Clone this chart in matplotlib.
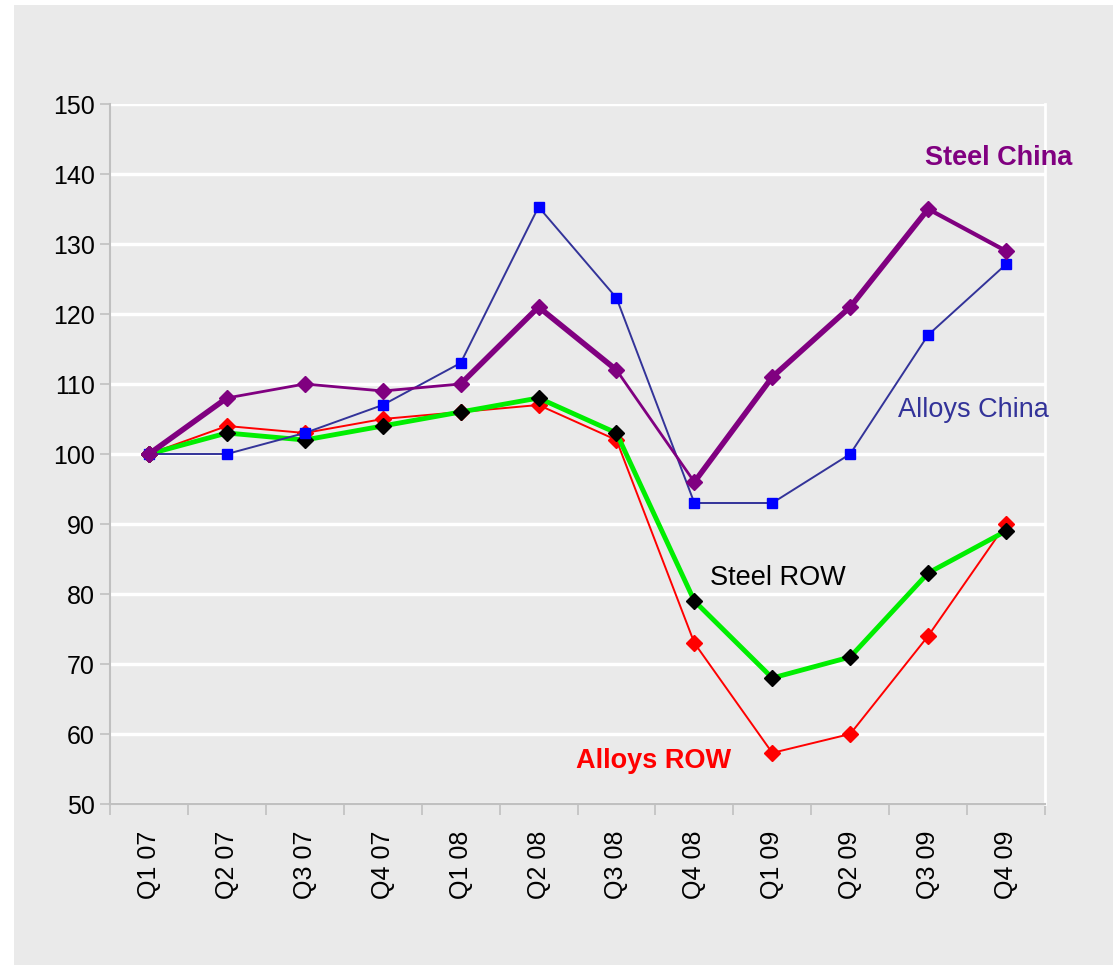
import matplotlib
matplotlib.use("Agg")
import matplotlib.pyplot as plt
from matplotlib.patches import Rectangle

plt.rcParams['font.family'] = ['Liberation Sans', 'DejaVu Sans']

# Quarterly index values (Q1 07 = 100)
quarters = ["Q1 07", "Q2 07", "Q3 07", "Q4 07", "Q1 08", "Q2 08",
            "Q3 08", "Q4 08", "Q1 09", "Q2 09", "Q3 09", "Q4 09"]
steel_china = [100, 108, 110, 109, 110, 121, 112, 96, 111, 121, 135, 129]
alloys_china = [100, 100, 103, 107, 113, 135.3, 122.3, 93, 93, 100, 117, 127.1]
alloys_row = [100, 104, 103, 105, 106, 107, 102, 73, 57.3, 60, 74, 90]
steel_row = [100, 103, 102, 104, 106, 108, 103, 79, 68, 71, 83, 89]

# line width of each Steel China segment
steel_china_widths = [4.0, 2.0, 2.0, 2.0, 4.0, 4.0, 2.0, 4.0, 4.0, 4.0, 3.0]

fig = plt.figure(figsize=(11.13, 9.65), dpi=100)
fig.patch.set_facecolor("white")
fig.patches.append(Rectangle((14 / 1113, 0), 1, 960 / 965, transform=fig.transFigure,
                             facecolor="#eaeaea", edgecolor="none", zorder=-10))

ax = fig.add_axes([110 / 1113, (965 - 804) / 965, 935 / 1113, 700 / 965])
ax.set_facecolor("#eaeaea")

x = list(range(len(quarters)))

ax.plot(x, alloys_row, color="#ff0000", lw=1.4, marker="D", ms=8,
        mfc="#ff0000", mec="#ff0000", zorder=3)
ax.plot(x, steel_row, color="#00ee00", lw=3.5, marker="D", ms=8,
        mfc="black", mec="black", zorder=4)
ax.plot(x, alloys_china, color="#333399", lw=1.4, marker="s", ms=7.5,
        mfc="#0000ff", mec="#0000ff", zorder=5)
for i, w in enumerate(steel_china_widths):
    ax.plot(x[i:i + 2], steel_china[i:i + 2], color="#800080", lw=w,
            solid_capstyle="round", zorder=6)
ax.plot(x, steel_china, ls="none", marker="D", ms=8,
        mfc="#800080", mec="#800080", zorder=7)

ax.text(10.9, 142.3, "Steel China", color="#800080", fontsize=19.5,
        fontweight="bold", ha="center", va="center", clip_on=False)
ax.text(10.58, 106.3, "Alloys China", color="#333399", fontsize=19.5,
        ha="center", va="center", clip_on=False)
ax.text(8.07, 82.3, "Steel ROW", color="black", fontsize=19.5,
        ha="center", va="center")
ax.text(6.48, 56.1, "Alloys ROW", color="#ff0000", fontsize=19.5,
        fontweight="bold", ha="center", va="center")

ax.set_xlim(-0.5, len(quarters) - 0.5)
ax.set_ylim(50, 150)
ax.set_yticks(range(50, 151, 10))
ax.set_xticks(x)
ax.set_xticklabels(quarters, rotation=90, fontsize=18)
ax.set_xticks([i + 0.5 for i in range(-1, len(quarters))], minor=True)
ax.tick_params(axis="x", which="major", length=0, pad=19)
ax.tick_params(axis="x", which="minor", length=8, color="#c0c0c0", width=1.2, direction="out")
ax.tick_params(axis="y", length=7, color="#c0c0c0", width=1.2, labelsize=18, pad=4)

ax.grid(axis="y", color="white", lw=2.5)
ax.set_axisbelow(True)
for side in ("left", "bottom"):
    ax.spines[side].set_color("#c0c0c0")
    ax.spines[side].set_linewidth(1.5)
ax.spines["right"].set_color("white")
ax.spines["right"].set_linewidth(2)
ax.spines["top"].set_visible(False)

fig.savefig("out.png", dpi=100)
